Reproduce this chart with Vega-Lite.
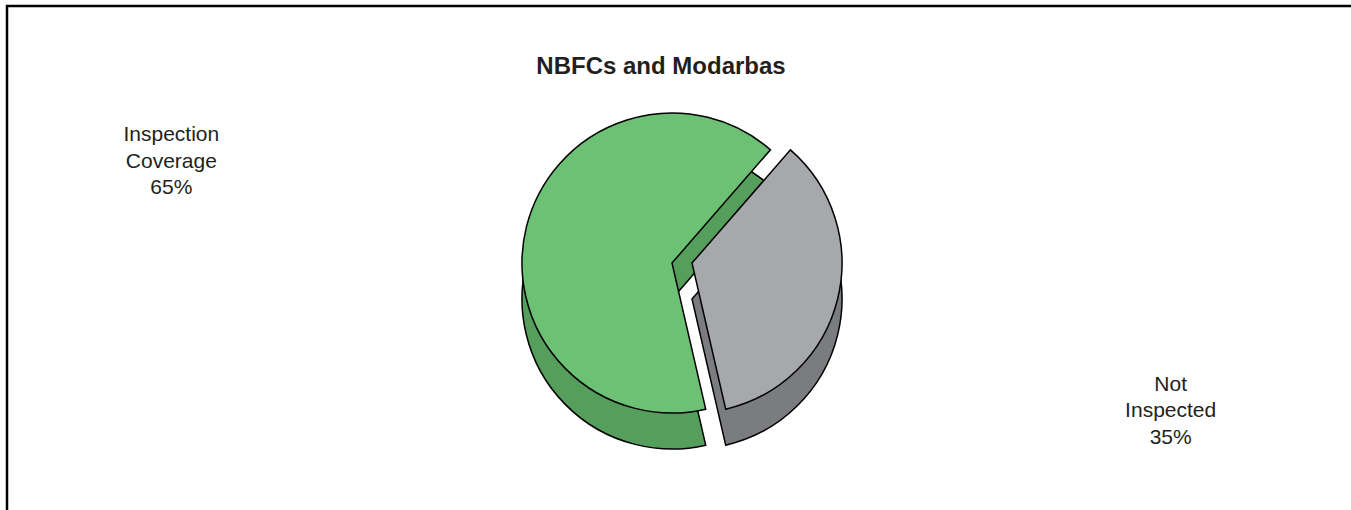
{
  "$schema": "https://vega.github.io/schema/vega-lite/v6.json",
  "width": 1351,
  "height": 510,
  "autosize": {"type": "fit", "contains": "padding"},
  "padding": {"top": 6, "left": 7, "right": -10, "bottom": -10},
  "background": "white",
  "view": {"stroke": "#000000", "strokeWidth": 2.5, "fill": "white"},
  "config": {
    "font": "Liberation Sans"
  },
  "title": {
    "text": "NBFCs and Modarbas",
    "fontSize": 24,
    "fontWeight": "bold",
    "color": "#231F20",
    "anchor": "middle",
    "offset": -73,
    "dx": -23
  },
  "data": {
    "values": [
      {"category": "Not Inspected", "value": 35, "ord": 1, "label": "Not\nInspected\n35%"},
      {"category": "Inspection Coverage", "value": 65, "ord": 2, "label": "Inspection\nCoverage\n65%"}
    ]
  },
  "encoding": {
    "theta": {"field": "value", "type": "quantitative", "stack": true, "scale": {"range": [0.716, 6.999]}},
    "order": {"field": "ord", "type": "quantitative"}
  },
  "layer": [
    {
      "mark": {"type": "arc", "outerRadius": 150, "xOffset": -12, "yOffset": 36},
      "encoding": {
        "fill": {"condition": {"test": "datum.category == 'Inspection Coverage'", "value": "#559E5B"}, "value": "transparent"},
        "stroke": {"condition": {"test": "datum.category == 'Inspection Coverage'", "value": "#000000"}, "value": "transparent"},
        "strokeWidth": {"value": 1.5}
      }
    },
    {
      "mark": {"type": "arc", "outerRadius": 150, "xOffset": -12},
      "encoding": {
        "fill": {"condition": {"test": "datum.category == 'Inspection Coverage'", "value": "#6CC174"}, "value": "transparent"},
        "stroke": {"condition": {"test": "datum.category == 'Inspection Coverage'", "value": "#000000"}, "value": "transparent"},
        "strokeWidth": {"value": 1.5}
      }
    },
    {
      "mark": {"type": "arc", "outerRadius": 150, "xOffset": 8, "yOffset": 36},
      "encoding": {
        "fill": {"condition": {"test": "datum.category == 'Not Inspected'", "value": "#7B7C80"}, "value": "transparent"},
        "stroke": {"condition": {"test": "datum.category == 'Not Inspected'", "value": "#000000"}, "value": "transparent"},
        "strokeWidth": {"value": 1.5}
      }
    },
    {
      "mark": {"type": "arc", "outerRadius": 150, "xOffset": 8},
      "encoding": {
        "fill": {"condition": {"test": "datum.category == 'Not Inspected'", "value": "#A7A8AB"}, "value": "transparent"},
        "stroke": {"condition": {"test": "datum.category == 'Not Inspected'", "value": "#000000"}, "value": "transparent"},
        "strokeWidth": {"value": 1.5}
      }
    },
    {
      "mark": {"type": "text", "radius": 515, "xOffset": -13, "yOffset": -3, "lineBreak": "\n", "fontSize": 21, "lineHeight": 26.5, "color": "#231F20", "align": "center", "baseline": "middle"},
      "encoding": {
        "text": {"field": "label", "type": "nominal"}
      }
    }
  ]
}
